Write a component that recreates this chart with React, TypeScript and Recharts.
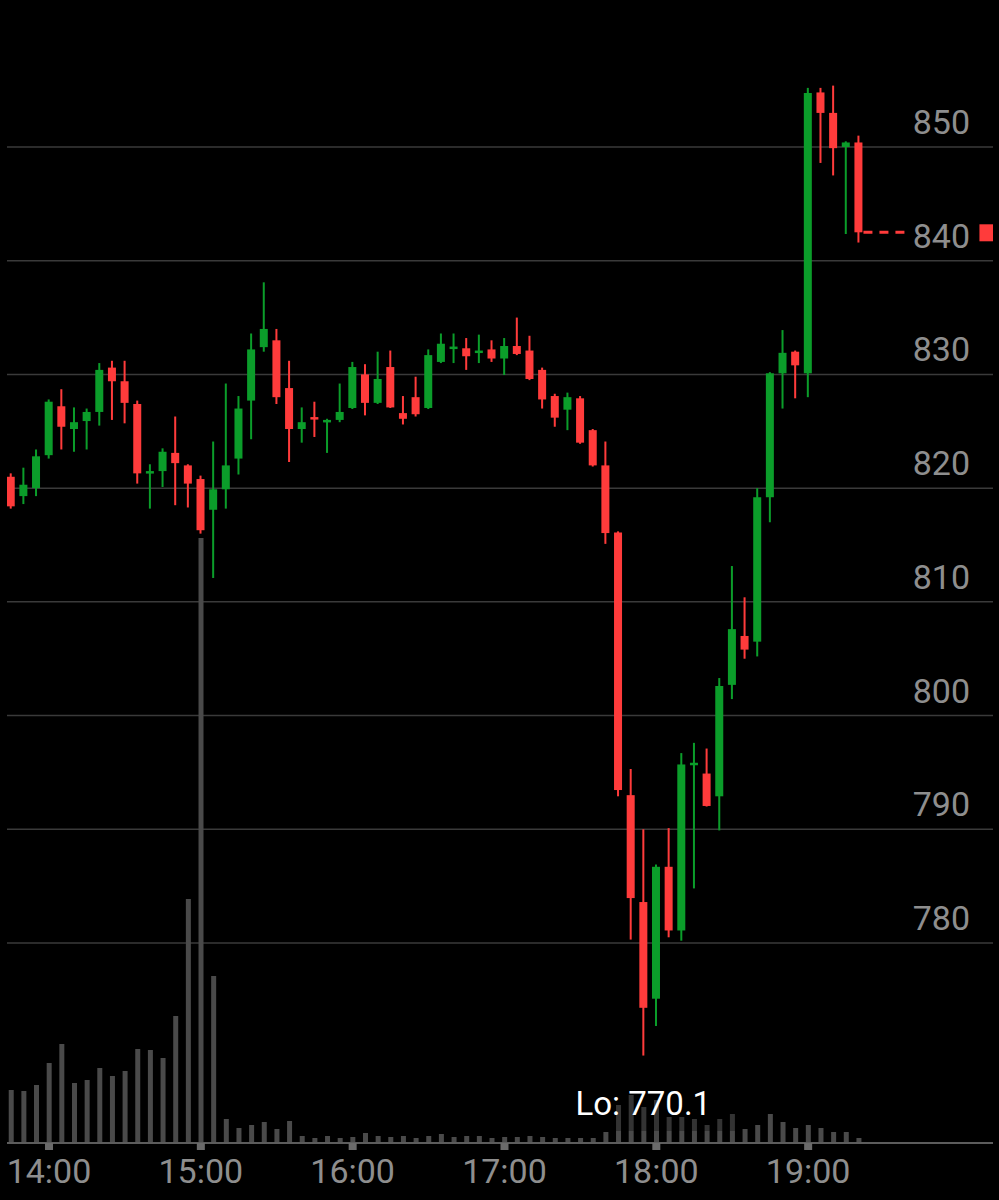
import React from "react";
import {
  ComposedChart,
  Bar,
  XAxis,
  YAxis,
  CartesianGrid,
} from "recharts";

// 5-minute candles, 13:45 to 19:20
const open = [
  821.0, 819.3, 820.0, 822.9, 827.2, 825.2, 825.9, 826.7, 830.6, 829.4,
  827.4, 821.4, 821.5, 823.1, 822.0, 820.8, 818.1, 819.9, 822.6, 827.7,
  832.4, 833.0, 828.8, 825.2, 826.25, 825.9, 826.0, 827.05, 830.0, 827.5,
  830.65, 826.6, 828.0, 827.05, 831.1, 832.35, 832.3, 831.9, 832.2, 831.4,
  832.5, 832.1, 830.4, 828.1, 826.9, 827.9, 825.1, 822.0, 816.1, 793.0,
  783.6, 775.1, 786.7, 781.1, 795.75, 794.9, 792.9, 802.7, 807.0, 806.5,
  819.2, 830.1, 832.0, 830.1, 854.8, 853.0, 850.0, 850.4,
];
const high = [
  821.3, 821.8, 823.4, 827.8, 828.7, 827.1, 827.0, 831.0, 831.2, 831.2,
  827.7, 822.1, 823.5, 826.3, 822.1, 821.1, 824.1, 829.2, 828.1, 833.6,
  838.1, 834.0, 831.2, 827.1, 827.6, 826.1, 829.2, 831.1, 830.9, 832.0,
  832.1, 828.1, 829.8, 832.2, 833.6, 833.6, 833.2, 833.5, 833.0, 833.2,
  835.0, 833.4, 830.6, 828.3, 828.4, 828.1, 825.2, 824.1, 816.2, 795.3,
  790.0, 786.9, 790.1, 796.7, 797.6, 797.1, 803.3, 813.15, 810.4, 820.0,
  830.2, 833.9, 832.1, 855.2, 855.2, 855.4, 850.5, 851.0,
];
const low = [
  818.2, 818.6, 819.3, 822.6, 823.4, 823.2, 823.4, 825.5, 826.0, 825.7,
  820.4, 818.2, 820.1, 818.5, 818.3, 816.0, 812.1, 818.2, 821.2, 824.3,
  832.0, 827.4, 822.3, 824.0, 824.5, 823.1, 825.8, 826.96, 826.4, 827.4,
  827.05, 825.6, 826.3, 826.96, 831.0, 831.0, 830.4, 831.0, 831.1, 829.95,
  831.7, 829.5, 827.0, 825.4, 825.1, 823.9, 821.9, 815.1, 792.9, 780.3,
  770.1, 772.7, 780.5, 780.2, 784.8, 792.0, 789.9, 801.45, 805.0, 805.2,
  817.0, 827.0, 827.9, 828.0, 848.6, 847.5, 842.35, 841.6,
];
const close = [
  818.4, 820.3, 822.8, 827.6, 825.4, 825.8, 826.7, 830.4, 829.4, 827.5,
  821.3, 821.5, 823.2, 822.2, 820.4, 816.3, 819.9, 822.0, 827.0, 832.2,
  834.0, 828.0, 825.2, 825.8, 826.15, 826.0, 826.7, 830.65, 827.5, 829.6,
  827.1, 826.1, 826.5, 831.7, 832.7, 832.45, 831.6, 832.1, 831.4, 832.5,
  831.8, 829.6, 827.8, 826.2, 828.0, 824.0, 822.0, 816.05, 793.45, 783.95,
  774.3, 786.7, 781.1, 795.7, 795.85, 792.05, 802.6, 807.6, 805.8, 819.2,
  830.1, 831.9, 830.8, 854.75, 853.0, 849.9, 850.4, 842.5,
];
// volume (thousands)
const volume = [
  53, 52, 58, 80, 99, 60, 63, 75, 67, 72,
  94, 93, 85, 127, 244, 605, 167, 24, 15, 18,
  21, 14, 22, 7, 5, 7, 5, 6, 10, 7,
  6, 7, 5, 7, 9, 6, 7, 7, 5, 6,
  6, 7, 6, 5, 5, 5, 5, 11, 38, 48,
  36, 43, 26, 26, 24, 18, 24, 29, 14, 18,
  29, 21, 15, 18, 15, 11, 11, 5,
];
// darker upper share of volume on the selloff bars
const volumeUpper = [
  0, 0, 0, 0, 0, 0, 0, 0, 0, 0,
  0, 0, 0, 0, 0, 0, 0, 0, 0, 0,
  0, 0, 0, 0, 0, 0, 0, 0, 0, 0,
  0, 0, 0, 0, 0, 0, 0, 0, 0, 0,
  0, 0, 0, 0, 0, 0, 0, 0, 26, 36,
  24, 31, 14, 14, 12, 6, 12, 17, 0, 0,
  0, 0, 0, 0, 0, 0, 0, 0,
];

const tickIndex = [3, 15, 27, 39, 51, 63];
const tickLabels = ["14:00", "15:00", "16:00", "17:00", "18:00", "19:00"];
const priceTicks = [780, 790, 800, 810, 820, 830, 840, 850];
const PRICE_MIN = 762.41;
const PRICE_MAX = 861.17;

const UP = "#0b9d2a";
const DOWN = "#ff3b3b";
const FONT = "Roboto, 'Noto Sans', sans-serif";

const minLow = Math.min(...low);

const data = open.map((o, i) => ({
  i,
  open: o,
  high: high[i],
  low: low[i],
  close: close[i],
  volBase: volume[i] - volumeUpper[i],
  volUpper: volumeUpper[i],
}));

const Candle = (props: any) => {
  const { x, y, width, height, payload } = props;
  if (!payload) return null;
  const top = Math.min(y, y + height);
  const h = Math.abs(height);
  const range = payload.high - payload.low || 1;
  const yOf = (v: number) => top + ((payload.high - v) / range) * h;
  const up = payload.close >= payload.open;
  const color = up ? UP : DOWN;
  const cx = x + width / 2;
  const bTop = yOf(Math.max(payload.open, payload.close));
  const bBot = yOf(Math.min(payload.open, payload.close));
  const isLast = payload.i === open.length - 1;
  return (
    <g>
      <rect x={cx - 1} y={top} width={2} height={Math.max(h, 1)} fill={color} />
      <rect
        x={cx - 4}
        y={bTop}
        width={8}
        height={Math.max(bBot - bTop, 2.5)}
        fill={color}
      />
      {payload.low === minLow && (
        <text
          x={cx}
          y={yOf(payload.low) + 59}
          textAnchor="middle"
          fill="#ffffff"
          fontSize={33}
          fontFamily={FONT}
        >
          {`Lo: ${payload.low.toFixed(1)}`}
        </text>
      )}
      {isLast && (
        <g>
          <line
            x1={cx + 5}
            x2={cx + 53}
            y1={yOf(payload.close)}
            y2={yOf(payload.close)}
            stroke={DOWN}
            strokeWidth={3}
            strokeDasharray="9 7"
          />
          <rect
            x={cx + 121}
            y={yOf(payload.close) - 8}
            width={15}
            height={17}
            fill={DOWN}
          />
        </g>
      )}
    </g>
  );
};

const TimeTick = (props: any) => {
  const { x, y, payload } = props;
  const k = tickIndex.indexOf(payload.value);
  return (
    <g>
      <rect x={x - 4} y={y} width={8} height={7} fill="#6a6a6a" />
      <text
        x={x}
        y={y + 40}
        textAnchor="middle"
        fill="#8e8e8e"
        fontSize={34}
        fontFamily={FONT}
      >
        {k >= 0 ? tickLabels[k] : ""}
      </text>
    </g>
  );
};

const renderPriceTick = (props: any) => {
  const { y, payload } = props;
  return (
    <text
      key={payload.value}
      x={970}
      y={y - 13}
      textAnchor="end"
      fill="#8e8e8e"
      fontSize={34}
      fontFamily={FONT}
    >
      {payload.value}
    </text>
  );
};

export default function App() {
  return (
    <div
      style={{
        position: "absolute",
        left: 0,
        top: 0,
        width: 999,
        height: 1200,
        background: "#000",
      }}
    >
      <ComposedChart
        width={999}
        height={1200}
        data={data}
        margin={{ top: 20, right: 6, left: 7, bottom: 0 }}
      >
        <CartesianGrid
          xAxisId="p"
          yAxisId="price"
          vertical={false}
          stroke="#3a3a3a"
          strokeWidth={1.5}
          horizontalCoordinatesGenerator={({ offset }: any) =>
            priceTicks.map(
              (t) =>
                offset.top +
                ((PRICE_MAX - t) / (PRICE_MAX - PRICE_MIN)) * offset.height
            )
          }
        />
        <XAxis
          xAxisId="p"
          dataKey="i"
          type="number"
          domain={[-0.32, 77.61]}
          allowDataOverflow
          ticks={tickIndex}
          interval={0}
          height={57}
          tickSize={0}
          tickMargin={0}
          tickLine={false}
          axisLine={{ stroke: "#5c5c5c", strokeWidth: 2 }}
          tick={<TimeTick />}
        />
        <XAxis
          xAxisId="v"
          dataKey="i"
          type="number"
          domain={[-0.32, 77.61]}
          allowDataOverflow
          hide
        />
        <YAxis
          yAxisId="price"
          orientation="right"
          width={1}
          mirror
          type="number"
          domain={[PRICE_MIN, PRICE_MAX]}
          allowDataOverflow
          ticks={priceTicks}
          interval={0}
          tickSize={0}
          tickMargin={0}
          tickLine={false}
          axisLine={false}
          tick={renderPriceTick}
        />
        <YAxis yAxisId="vol" hide domain={[0, 1123]} allowDataOverflow />
        <Bar
          xAxisId="v"
          yAxisId="vol"
          dataKey="volBase"
          stackId="vol"
          fill="#4a4a4a"
          barSize={5}
          isAnimationActive={false}
        />
        <Bar
          xAxisId="v"
          yAxisId="vol"
          dataKey="volUpper"
          stackId="vol"
          fill="#333333"
          barSize={5}
          isAnimationActive={false}
        />
        <Bar
          xAxisId="p"
          yAxisId="price"
          dataKey={(d: any) => [d.low, d.high]}
          barSize={8}
          shape={<Candle />}
          isAnimationActive={false}
        />
      </ComposedChart>
    </div>
  );
}
